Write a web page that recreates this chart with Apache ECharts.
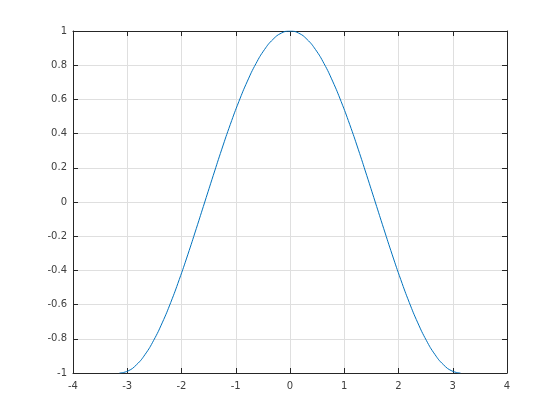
<!DOCTYPE html>
<html><head><meta charset="utf-8">
<script src="https://cdn.jsdelivr.net/npm/echarts@6/dist/echarts.min.js"></script>
<style>html,body{margin:0;padding:0;background:#fff}#c{width:560px;height:420px}</style>
</head><body><div id="c"></div>
<script>
var xValues = [-3.142,-2.985,-2.827,-2.670,-2.513,-2.356,-2.199,-2.042,-1.885,-1.728,-1.571,-1.414,-1.257,-1.100,-0.942,-0.785,-0.628,-0.471,-0.314,-0.157,0,0.157,0.314,0.471,0.628,0.785,0.942,1.100,1.257,1.414,1.571,1.728,1.885,2.042,2.199,2.356,2.513,2.670,2.827,2.985,3.142];
var yValues = [-1,-0.988,-0.951,-0.891,-0.809,-0.707,-0.588,-0.454,-0.309,-0.156,0,0.156,0.309,0.454,0.588,0.707,0.809,0.891,0.951,0.988,1,0.988,0.951,0.891,0.809,0.707,0.588,0.454,0.309,0.156,0,-0.156,-0.309,-0.454,-0.588,-0.707,-0.809,-0.891,-0.951,-0.988,-1];
var xTicks = [-4,-3,-2,-1,0,1,2,3,4];
var yTicks = [-1,-0.8,-0.6,-0.4,-0.2,0,0.2,0.4,0.6,0.8,1];

var data = xValues.map(function(x,i){return [x,yValues[i]];});
var chart = echarts.init(document.getElementById('c'), null, {renderer:'canvas'});
var axisCol = '#262626';
var lbl = {color:'#404040', fontFamily:'DejaVu Sans', fontSize:10};
function xa(pos, showLabel){
  return {type:'value', position:pos, min:xTicks[0], max:xTicks[xTicks.length-1], interval:1,
    axisLine:{show:true, onZero:false, lineStyle:{color:axisCol, width:1}},
    axisTick:{show:true, inside:true, length:5, lineStyle:{color:axisCol}},
    axisLabel:Object.assign({show:showLabel, margin:8}, lbl),
    splitLine:{show:showLabel, lineStyle:{color:'#dfdfdf', width:1}}};
}
function ya(pos, showLabel){
  return {type:'value', position:pos, min:yTicks[0], max:yTicks[yTicks.length-1], interval:0.2,
    axisLine:{show:true, onZero:false, lineStyle:{color:axisCol, width:1}},
    axisTick:{show:true, inside:true, length:5, lineStyle:{color:axisCol}},
    axisLabel:Object.assign({show:showLabel, margin:6, formatter:function(v){return String(Math.round(v*10)/10);}}, lbl),
    splitLine:{show:showLabel, lineStyle:{color:'#dfdfdf', width:1}}};
}
chart.setOption({
  animation:false,
  backgroundColor:'#ffffff',
  grid:{left:73, right:53, top:31, bottom:47, containLabel:false},
  xAxis:[xa('bottom', true), xa('top', false)],
  yAxis:[ya('left', true), ya('right', false)],
  series:[{type:'line', data:data, showSymbol:false, smooth:true,
    lineStyle:{color:'#0072BD', width:1}, xAxisIndex:0, yAxisIndex:0}]
});
</script></body></html>
